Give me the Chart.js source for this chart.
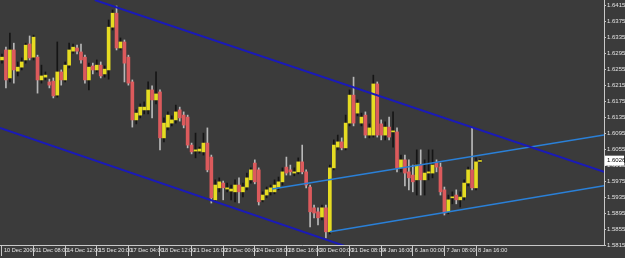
<!DOCTYPE html>
<html>
<head>
<meta charset="utf-8">
<script src="https://cdn.jsdelivr.net/npm/chart.js@4.4.1/dist/chart.umd.min.js"></script>
<style>
  html, body { margin: 0; padding: 0; background: #3b3b3b; }
  #wrap { width: 625px; height: 258px; }
</style>
</head>
<body>
<div id="wrap"><canvas id="price-chart" width="625" height="258"></canvas></div>
<script>
// H4 candles, 10 Dec 2009 - 8 Jan 2010
const opens = [1.6278, 1.6303, 1.6233, 1.6303, 1.6250, 1.6260, 1.6278, 1.6318, 1.6285, 1.6285,
  1.6228, 1.6235, 1.6223, 1.6225, 1.6190, 1.6248, 1.6228, 1.6265, 1.6300, 1.6308,
  1.6298, 1.6285, 1.6228, 1.6263, 1.6253, 1.6265, 1.6243, 1.6253, 1.6360, 1.6395,
  1.6308, 1.6323, 1.6285, 1.6223, 1.6128, 1.6140, 1.6153, 1.6153, 1.6203, 1.6178,
  1.6198, 1.6083, 1.6110, 1.6120, 1.6128, 1.6153, 1.6140, 1.6135, 1.6065, 1.6050,
  1.6050, 1.6048, 1.6070, 1.6035, 1.5928, 1.5958, 1.5970, 1.5955, 1.5950, 1.5948,
  1.5965, 1.5948, 1.5960, 1.5978, 1.6020, 1.6003, 1.5928, 1.5940, 1.5948, 1.5948,
  1.5960, 1.5973, 1.6010, 1.6003, 1.5995, 1.5998, 1.6023, 1.5998, 1.5960, 1.5908,
  1.5898, 1.5885, 1.5908, 1.5848, 1.6008, 1.6060, 1.6073, 1.6058, 1.6120, 1.6190,
  1.6145, 1.6120, 1.6140, 1.6090, 1.6090, 1.6218, 1.6118, 1.6090, 1.6110, 1.6098,
  1.6098, 1.6008, 1.6028, 1.5998, 1.5990, 1.5978, 1.6015, 1.5978, 1.5995, 1.5995,
  1.6020, 1.6010, 1.5953, 1.5898, 1.5933, 1.5940, 1.5928, 1.5935, 1.5970, 1.6003,
  1.5958, 1.6024];
const highs = [1.6293, 1.6310, 1.6345, 1.6320, 1.6273, 1.6283, 1.6320, 1.6338, 1.6340, 1.6290,
  1.6265, 1.6248, 1.6230, 1.6233, 1.6323, 1.6253, 1.6273, 1.6320, 1.6318, 1.6315,
  1.6318, 1.6290, 1.6270, 1.6270, 1.6278, 1.6273, 1.6263, 1.6378, 1.6403, 1.6413,
  1.6333, 1.6328, 1.6290, 1.6228, 1.6153, 1.6168, 1.6173, 1.6223, 1.6213, 1.6248,
  1.6203, 1.6133, 1.6148, 1.6138, 1.6165, 1.6160, 1.6148, 1.6140, 1.6070, 1.6095,
  1.6060, 1.6095, 1.6108, 1.6040, 1.5978, 1.5983, 1.5975, 1.5970, 1.5965, 1.5978,
  1.5983, 1.5970, 1.5995, 1.6008, 1.6028, 1.6008, 1.5948, 1.5960, 1.5965, 1.5978,
  1.5985, 1.6008, 1.6035, 1.6015, 1.6008, 1.6033, 1.6065, 1.6003, 1.5965, 1.5915,
  1.5908, 1.5915, 1.5915, 1.6015, 1.6078, 1.6090, 1.6083, 1.6140, 1.6203, 1.6235,
  1.6178, 1.6145, 1.6148, 1.6118, 1.6240, 1.6223, 1.6128, 1.6123, 1.6135, 1.6148,
  1.6108, 1.6040, 1.6040, 1.6028, 1.6015, 1.6053, 1.6053, 1.6028, 1.6053, 1.6053,
  1.6028, 1.6020, 1.5960, 1.5940, 1.5948, 1.5953, 1.5948, 1.5978, 1.6010, 1.6108,
  1.6033, 1.6030];
const lows = [1.6270, 1.6208, 1.6223, 1.6220, 1.6238, 1.6253, 1.6270, 1.6278, 1.6278, 1.6195,
  1.6220, 1.6228, 1.6208, 1.6183, 1.6185, 1.6215, 1.6223, 1.6258, 1.6295, 1.6293,
  1.6270, 1.6220, 1.6203, 1.6243, 1.6248, 1.6233, 1.6235, 1.6230, 1.6353, 1.6303,
  1.6303, 1.6223, 1.6215, 1.6110, 1.6118, 1.6133, 1.6143, 1.6143, 1.6133, 1.6168,
  1.6053, 1.6073, 1.6103, 1.6113, 1.6120, 1.6125, 1.6108, 1.6058, 1.6043, 1.6033,
  1.6045, 1.6040, 1.5998, 1.5920, 1.5923, 1.5948, 1.5928, 1.5948, 1.5928, 1.5923,
  1.5920, 1.5935, 1.5953, 1.5970, 1.5968, 1.5915, 1.5923, 1.5933, 1.5940, 1.5943,
  1.5953, 1.5965, 1.5990, 1.5990, 1.5988, 1.5993, 1.5993, 1.5958, 1.5860, 1.5883,
  1.5865, 1.5878, 1.5833, 1.5843, 1.6003, 1.6053, 1.6053, 1.6053, 1.6113, 1.6113,
  1.6138, 1.6113, 1.6083, 1.6083, 1.6085, 1.6085, 1.6078, 1.6078, 1.6078, 1.6060,
  1.5998, 1.5998, 1.5963, 1.5953, 1.5948, 1.5940, 1.5940, 1.5940, 1.5978, 1.5983,
  1.5998, 1.5940, 1.5890, 1.5893, 1.5918, 1.5918, 1.5910, 1.5928, 1.5963, 1.5953,
  1.5953, 1.6022];
const closes = [1.6285, 1.6228, 1.6303, 1.6253, 1.6260, 1.6273, 1.6315, 1.6283, 1.6335, 1.6228,
  1.6238, 1.6240, 1.6215, 1.6188, 1.6248, 1.6228, 1.6265, 1.6303, 1.6310, 1.6300,
  1.6278, 1.6228, 1.6260, 1.6253, 1.6265, 1.6238, 1.6255, 1.6360, 1.6395, 1.6308,
  1.6323, 1.6270, 1.6220, 1.6128, 1.6145, 1.6160, 1.6160, 1.6203, 1.6178, 1.6193,
  1.6083, 1.6120, 1.6140, 1.6128, 1.6148, 1.6133, 1.6115, 1.6065, 1.6048, 1.6053,
  1.6055, 1.6070, 1.6003, 1.5933, 1.5965, 1.5973, 1.5958, 1.5958, 1.5955, 1.5965,
  1.5948, 1.5960, 1.5983, 1.6003, 1.5973, 1.5923, 1.5940, 1.5953, 1.5958, 1.5965,
  1.5973, 1.5998, 1.5995, 1.5998, 1.5998, 1.6023, 1.5998, 1.5965, 1.5898, 1.5895,
  1.5883, 1.5908, 1.5848, 1.6008, 1.6065, 1.6073, 1.6058, 1.6120, 1.6190, 1.6120,
  1.6170, 1.6135, 1.6090, 1.6108, 1.6218, 1.6090, 1.6090, 1.6110, 1.6085, 1.6100,
  1.6008, 1.6028, 1.5995, 1.5983, 1.5973, 1.6015, 1.5978, 1.5995, 1.5998, 1.6015,
  1.6010, 1.5948, 1.5895, 1.5928, 1.5935, 1.5928, 1.5935, 1.5970, 1.6003, 1.5958,
  1.6023, 1.6026];

const timeLabels = ["10 Dec 2009", "11 Dec 08:00", "14 Dec 12:00", "15 Dec 20:00", "17 Dec 04:00",
  "18 Dec 12:00", "21 Dec 16:00", "23 Dec 00:00", "24 Dec 08:00", "28 Dec 16:00", "30 Dec 00:00",
  "31 Dec 08:00", "4 Jan 16:00", "6 Jan 00:00", "7 Jan 08:00", "8 Jan 16:00"];
const priceTicks = [1.5815, 1.5855, 1.5895, 1.5935, 1.5975, 1.6015, 1.6055, 1.6095,
  1.6135, 1.6175, 1.6215, 1.6255, 1.6295, 1.6335, 1.6375, 1.6415];
const lastPrice = 1.6026;

// trend lines as [candle index, price] pairs
const fallTop = [[23.5, 1.6428], [152.4, 1.5998]];
const fallBottom = [[-0.5, 1.6108], [88.1, 1.5808]];
const riseTop = [[68.4, 1.5955], [152.4, 1.6090]];
const riseBottom = [[83.0, 1.5848], [152.4, 1.5963]];

const bullBody = '#e6dc22';
const bearBody = '#dc5a5c';
const bullWick = '#151515';
const bearWick = '#b8b8b8';
const axisColor = '#c8c8c8';
const textColor = '#e4e4e4';
const fontFamily = '"Liberation Sans Narrow", "Liberation Sans", sans-serif';
const tickFont = { family: fontFamily, size: 6 };

const isBull = opens.map((o, i) => closes[i] >= o);

function toPoints(pairs) {
  return pairs.map(p => ({ x: p[0], y: p[1] }));
}

function trendLine(pairs, color, width) {
  return {
    type: 'line',
    data: toPoints(pairs),
    borderColor: color,
    borderWidth: width,
    pointRadius: 0,
    clip: 0,
    order: 0
  };
}

function noPad(s) {
  s.paddingLeft = 0;
  s.paddingRight = 0;
  s.paddingTop = 0;
  s.paddingBottom = 0;
}

const bgPlugin = {
  id: 'bg',
  beforeDraw(chart) {
    const ctx = chart.ctx;
    ctx.save();
    ctx.fillStyle = '#3b3b3b';
    ctx.fillRect(0, 0, chart.width, chart.height);
    ctx.restore();
  }
};

// white box with the last price on the right axis
const priceTag = {
  id: 'priceTag',
  afterDraw(chart) {
    const ctx = chart.ctx;
    const y = chart.scales.y.getPixelForValue(lastPrice);
    const left = chart.chartArea.right + 1;
    ctx.save();
    ctx.fillStyle = '#ffffff';
    ctx.fillRect(left, y - 5, chart.width - left - 1, 10);
    ctx.fillStyle = '#000000';
    ctx.font = '6px ' + fontFamily;
    ctx.textBaseline = 'middle';
    ctx.fillText(lastPrice.toFixed(4), left + 2, y);
    ctx.restore();
  }
};

const priceChart = new Chart(document.getElementById('price-chart'), {
  type: 'bar',
  data: {
    datasets: [
      trendLine(fallTop, '#1a1ab8', 2),
      trendLine(fallBottom, '#1a1ab8', 2),
      trendLine(riseTop, '#2a80d8', 1.5),
      trendLine(riseBottom, '#2a80d8', 1.5),
      {
        data: opens.map((o, i) => ({ x: i, y: [o, closes[i]] })),
        backgroundColor: isBull.map(b => b ? bullBody : bearBody),
        barThickness: 3,
        minBarLength: 1,
        grouped: false,
        order: 1
      },
      {
        data: lows.map((l, i) => ({ x: i, y: [l, highs[i]] })),
        backgroundColor: isBull.map(b => b ? bullWick : bearWick),
        barThickness: 1,
        grouped: false,
        order: 2
      }
    ]
  },
  options: {
    responsive: false,
    animation: false,
    layout: { padding: 0 },
    plugins: { legend: { display: false }, tooltip: { enabled: false } },
    scales: {
      x: {
        type: 'linear',
        min: -0.5,
        max: 152.4,
        offset: false,
        afterBuildTicks: s => { s.ticks = timeLabels.map((t, k) => ({ value: k * 8 })); },
        afterFit: s => { s.height = 13; noPad(s); },
        ticks: {
          callback: (v, k) => timeLabels[k],
          align: 'start',
          labelOffset: 2,
          autoSkip: false,
          minRotation: 0,
          maxRotation: 0,
          padding: -9,
          color: textColor,
          font: { family: fontFamily, size: 5.6 }
        },
        grid: { drawOnChartArea: false, offset: false, color: axisColor, tickLength: 11 },
        border: { color: axisColor }
      },
      y: {
        position: 'right',
        min: 1.5815,
        max: 1.6428,
        afterBuildTicks: s => { s.ticks = priceTicks.map(v => ({ value: v })); },
        afterFit: s => { s.width = 21; noPad(s); },
        ticks: {
          callback: v => v.toFixed(4),
          autoSkip: false,
          padding: 1,
          color: textColor,
          font: tickFont
        },
        grid: { drawOnChartArea: false, color: axisColor, tickLength: 2 },
        border: { color: axisColor }
      }
    }
  },
  plugins: [bgPlugin, priceTag]
});
</script>
</body>
</html>
